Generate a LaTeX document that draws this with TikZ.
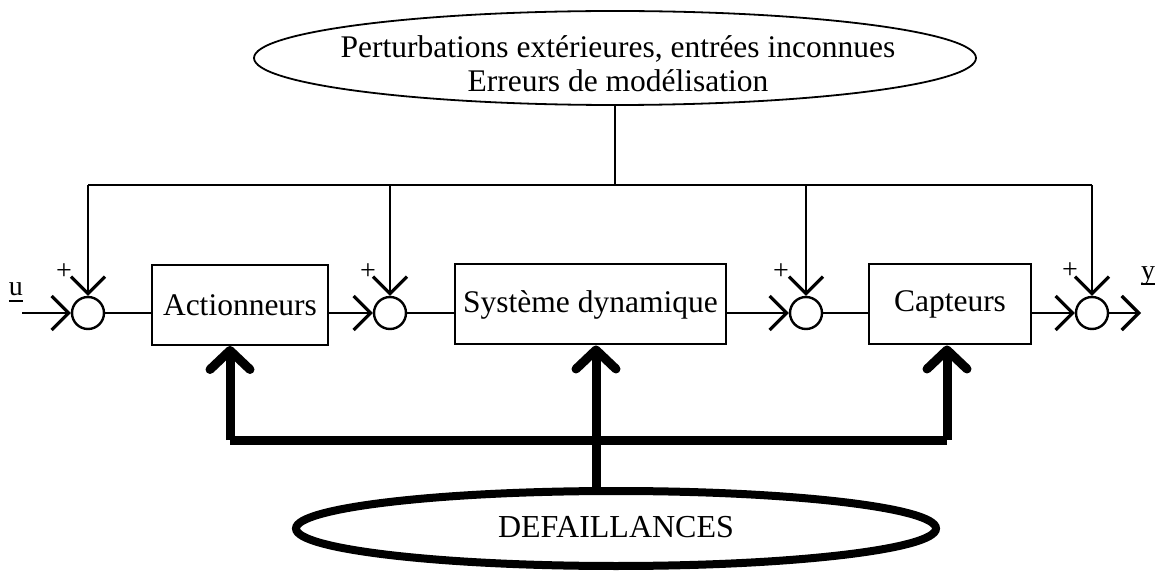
\documentclass[tikz,border=0pt]{standalone}
\usepackage{fontspec}
\setmainfont{Liberation Serif}
\usetikzlibrary{arrows.meta,shapes.geometric}
\begin{document}
\begin{tikzpicture}[x=1pt,y=-1pt,
  every node/.style={font=\fontsize{31.5}{34}\selectfont},
  block/.style={draw, line width=2pt, inner sep=0pt, minimum width=#1, minimum height=80},
  junction/.style={circle, draw, line width=2.4pt, minimum size=32, inner sep=0pt},
  wire/.style={line width=2pt},
  feed/.style={wire, -{Straight Barb[length=17pt, width=34pt, line width=3.2pt]}},
  faultline/.style={line width=9pt},
  faulttip/.style={-{Straight Barb[round, length=19pt, width=40pt]}},
  sign/.style={font=\fontsize{28}{28}\selectfont, inner sep=0pt},
  label/.style={anchor=base, inner sep=0pt, font=\fontsize{28}{28}\selectfont},
]
\useasboundingbox (0,0) rectangle (1163,572);

% disturbances and modelling errors
\node[ellipse, draw, line width=1.8pt, minimum width=722, minimum height=94, inner sep=0pt] (pert) at (615,58) {};
\node[align=center, inner sep=0pt] (perttxt) at (618,63.5) {Perturbations extérieures, entrées inconnues\\Erreurs de modélisation};

% summing junctions
\node[junction] (s1) at (88,313) {};
\node[junction] (s2) at (390,313) {};
\node[junction] (s3) at (806,313) {};
\node[junction] (s4) at (1092,313) {};

% plus signs
\node[sign] (p1) at (64,272) {+};
\node[sign] (p2) at (368,272) {+};
\node[sign] (p3) at (781,272) {+};
\node[sign] (p4) at (1070,271) {+};

% blocks
\node[block=176] (act) at (240,305) {Actionneurs};
\node[block=271] (sys) at (590.5,304.5) {Système dynamique};
\node[block=162] (cap) at (950,304.5) {Capteurs};

% faults
\node[ellipse, draw, line width=8pt, minimum width=640, minimum height=75, inner sep=0pt] (def) at (616,528.5) {};
\node[font=\fontsize{32}{34}\selectfont] (deftxt) at (616,527) {DEFAILLANCES};

% input and output labels
\node[label] (ulab) at (16,296) {u};
\draw[line width=1.5pt] ([yshift=-5pt]ulab.base west) -- ([yshift=-5pt]ulab.base east);
\node[label] (ylab) at (1148,280) {y};
\draw[line width=1.5pt] ([yshift=-4pt]ylab.base west) -- ([yshift=-4pt]ylab.base east);

% distribution line of the disturbances
\coordinate (t1) at (88,185);
\coordinate (t2) at (390,185);
\coordinate (t3) at (806,185);
\coordinate (t4) at (1092,185);
\coordinate (tm) at (615,185);
\draw[wire] (pert.south) -- (tm);
\draw[wire] (t1) -- (t4);
\draw[feed] (t1) -- (s1.north);
\draw[feed] (t2) -- (s2.north);
\draw[feed] (t3) -- (s3.north);
\draw[feed] (t4) -- (s4.north);

% signal chain, all on the junction level
\coordinate (uin) at (22,313);
\coordinate (yout) at (1141,313);
\draw[feed] (uin) -- (s1.west);
\draw[wire] (s1.east) -- (s1.east -| act.west);
\draw[feed] (s2.west -| act.east) -- (s2.west);
\draw[wire] (s2.east) -- (s2.east -| sys.west);
\draw[feed] (s3.west -| sys.east) -- (s3.west);
\draw[wire] (s3.east) -- (s3.east -| cap.west);
\draw[feed] (s4.west -| cap.east) -- (s4.west);
\draw[feed] (s4.east) -- (yout);

% fault paths
\coordinate (fl) at (230,440);
\coordinate (fr) at (947,440);
\coordinate (fm) at (596,492);
\draw[faultline, faulttip] (fl) -- (fl |- act.south);
\draw[faultline, faulttip] (fr) -- (fr |- cap.south);
\draw[faultline] (fl) -- (fr);
\draw[faultline, faulttip] (fm) -- (fm |- sys.south);
\end{tikzpicture}
\end{document}
